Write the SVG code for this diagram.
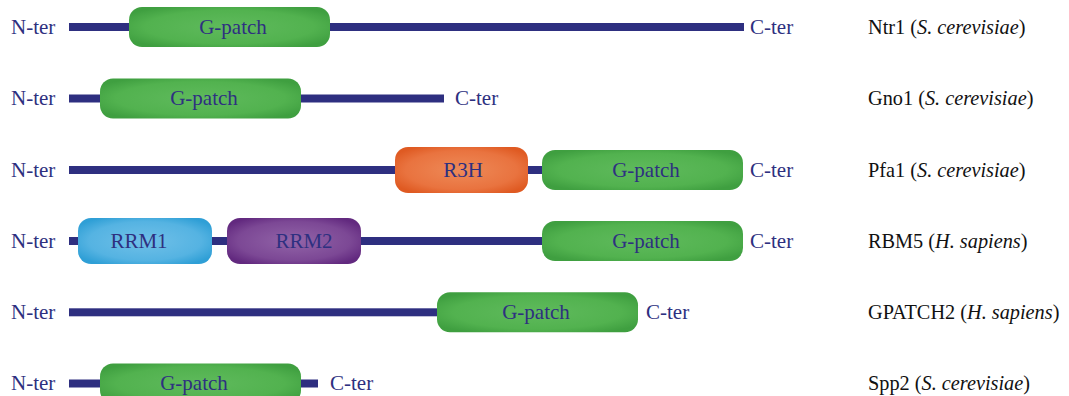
<svg xmlns="http://www.w3.org/2000/svg" width="1069" height="396" viewBox="0 0 1069 396">
<defs>
<radialGradient id="gGreen" cx="0.5" cy="0.5" r="0.6">
<stop offset="0" stop-color="#5fba5c"/><stop offset="0.7" stop-color="#52b24f"/><stop offset="1" stop-color="#3f9f40"/>
</radialGradient>
<radialGradient id="gOrange" cx="0.5" cy="0.5" r="0.6">
<stop offset="0" stop-color="#ee8a58"/><stop offset="0.7" stop-color="#e9733f"/><stop offset="1" stop-color="#df5a22"/>
</radialGradient>
<radialGradient id="gBlue" cx="0.5" cy="0.5" r="0.6">
<stop offset="0" stop-color="#70c0e8"/><stop offset="0.7" stop-color="#55b3e2"/><stop offset="1" stop-color="#2f9fd6"/>
</radialGradient>
<radialGradient id="gPurple" cx="0.5" cy="0.5" r="0.6">
<stop offset="0" stop-color="#9264a8"/><stop offset="0.7" stop-color="#7c4895"/><stop offset="1" stop-color="#62297f"/>
</radialGradient>
</defs>
<style>
.bb{fill:#2e2f80}
.gp{fill:url(#gGreen)}
.or{fill:url(#gOrange)}
.bl{fill:url(#gBlue)}
.pu{fill:url(#gPurple)}
text{font-family:"Liberation Serif","DejaVu Serif",serif;font-size:21px}
.t{fill:#2e3080}
.dm{fill:#2e3080;text-anchor:middle}
.sp{fill:#111;font-size:20.3px}
</style>
<g id="connectors"></g>
<g id="ntr1">
<rect class="bb" x="69" y="23" width="675" height="8"/>
<rect class="gp" x="129" y="7" width="201" height="40" rx="13"/>
<text class="dm" x="233" y="33.5">G-patch</text>
<text class="t" x="11" y="33.5">N-ter</text>
<text class="t" x="750" y="33.5">C-ter</text>
<text class="sp" x="868" y="33.5">Ntr1 (<tspan font-style="italic">S. cerevisiae</tspan>)</text>
</g>
<g id="gno1">
<rect class="bb" x="69" y="94.5" width="375" height="8"/>
<rect class="gp" x="100" y="78.5" width="201" height="40" rx="13"/>
<text class="dm" x="204" y="105">G-patch</text>
<text class="t" x="11" y="105">N-ter</text>
<text class="t" x="455" y="105">C-ter</text>
<text class="sp" x="868" y="105">Gno1 (<tspan font-style="italic">S. cerevisiae</tspan>)</text>
</g>
<g id="pfa1">
<rect class="bb" x="69" y="166" width="674" height="8"/>
<rect class="or" x="395" y="147" width="133" height="46" rx="13"/>
<text class="dm" x="463" y="176.5">R3H</text>
<rect class="gp" x="542" y="150" width="201" height="40" rx="13"/>
<text class="dm" x="646" y="176.5">G-patch</text>
<text class="t" x="11" y="176.5">N-ter</text>
<text class="t" x="750" y="176.5">C-ter</text>
<text class="sp" x="868" y="176.5">Pfa1 (<tspan font-style="italic">S. cerevisiae</tspan>)</text>
</g>
<g id="rbm5">
<rect class="bb" x="69" y="237" width="674" height="8"/>
<rect class="bl" x="78" y="218" width="134" height="46" rx="13"/>
<text class="dm" x="139" y="247.5">RRM1</text>
<rect class="pu" x="227" y="218" width="134" height="46" rx="13"/>
<text class="dm" x="304" y="247.5">RRM2</text>
<rect class="gp" x="542" y="221" width="201" height="40" rx="13"/>
<text class="dm" x="646" y="247.5">G-patch</text>
<text class="t" x="11" y="247.5">N-ter</text>
<text class="t" x="750" y="247.5">C-ter</text>
<text class="sp" x="868" y="247.5">RBM5 (<tspan font-style="italic">H. sapiens</tspan>)</text>
</g>
<g id="gpatch2">
<rect class="bb" x="69" y="308.3" width="380" height="8"/>
<rect class="gp" x="437" y="292.3" width="201" height="40" rx="13"/>
<text class="dm" x="536" y="319">G-patch</text>
<text class="t" x="11" y="319">N-ter</text>
<text class="t" x="646" y="319">C-ter</text>
<text class="sp" x="868" y="319">GPATCH2 (<tspan font-style="italic">H. sapiens</tspan>)</text>
</g>
<g id="spp2">
<rect class="bb" x="69" y="379.5" width="249" height="8"/>
<rect class="gp" x="100" y="363.5" width="201" height="40" rx="13"/>
<text class="dm" x="194" y="390">G-patch</text>
<text class="t" x="11" y="390">N-ter</text>
<text class="t" x="330" y="390">C-ter</text>
<text class="sp" x="868" y="390">Spp2 (<tspan font-style="italic">S. cerevisiae</tspan>)</text>
</g>
</svg>
